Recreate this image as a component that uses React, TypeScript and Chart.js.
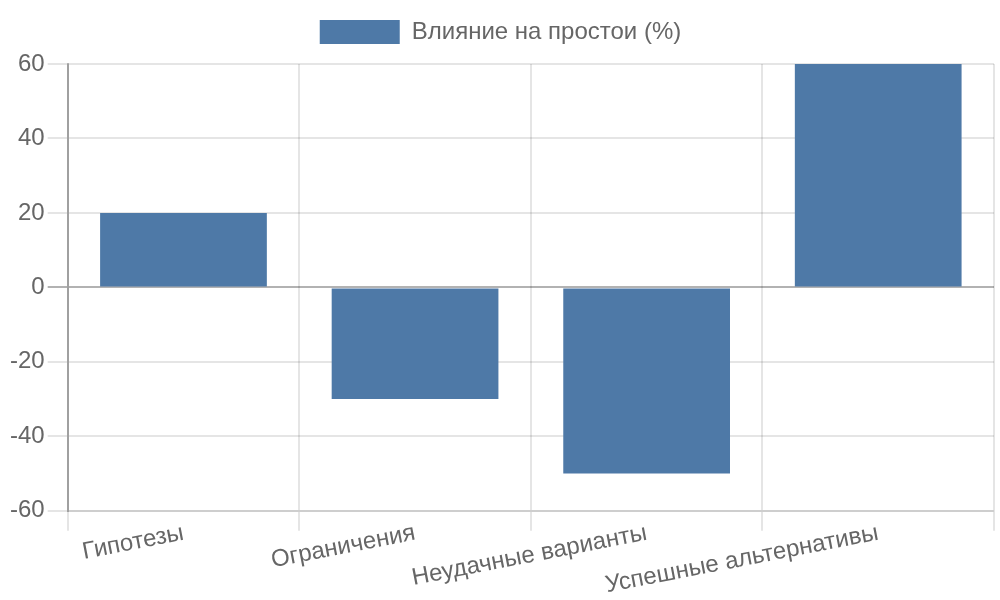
import React, { useEffect, useRef } from "react";
import { Chart, registerables } from "chart.js";

Chart.register(...registerables);

const categories = ["Гипотезы", "Ограничения", "Неудачные варианты", "Успешные альтернативы"];
const impactValues = [20, -30, -50, 60];
const seriesLabel = "Влияние на простои (%)";
const yMin = -60;
const yMax = 60;
const yStep = 20;

const legendSpacer = {
  id: "legendSpacer",
  afterInit(chart: any) {
    const lg = chart.legend;
    if (!lg) return;
    const orig = lg.fit.bind(lg);
    lg.fit = function () {
      orig();
      this.height += 10;
    };
  },
};

export default function App() {
  const ref = useRef<HTMLCanvasElement | null>(null);
  useEffect(() => {
    document.body.style.margin = "0";
    const ctx = ref.current!;
    const font = { family: "'Liberation Sans', Arial, sans-serif", size: 24 };
    const chart = new Chart(ctx, {
      type: "bar",
      data: {
        labels: categories,
        datasets: [
          {
            label: seriesLabel,
            data: impactValues,
            backgroundColor: "#4e79a7",
            borderWidth: 0,
          },
        ],
      },
      plugins: [legendSpacer],
      options: {
        animation: false,
        responsive: true,
        maintainAspectRatio: false,
        devicePixelRatio: 1,
        layout: { padding: { left: 7, right: 6, top: 0, bottom: 0 } },
        plugins: {
          legend: {
            display: true,
            position: "top",
            labels: {
              font,
              color: "#666",
              boxWidth: 80,
              boxHeight: 24,
              padding: 20,
            },
          },
          tooltip: { enabled: false },
        },
        scales: {
          x: {
            grid: {
              color: "rgba(0,0,0,0.1)",
              lineWidth: 2,
              tickLength: 20,
            },
            border: { color: "rgba(0,0,0,0.1)", width: 2 },
            ticks: { font, color: "#666", padding: -12, minRotation: 11, maxRotation: 11 },
            afterFit: (scale: any) => {
              scale.height += 12;
            },
          },
          y: {
            min: yMin,
            max: yMax,
            grid: {
              color: (c: any) => (c.tick && c.tick.value === 0 ? "rgba(0,0,0,0.3)" : "rgba(0,0,0,0.1)"),
              lineWidth: 2,
              tickLength: 20,
            },
            border: { color: "rgba(0,0,0,0.3)", width: 2 },
            ticks: { font, color: "#666", stepSize: yStep, padding: 3 },
          },
        },
      },
    });
    return () => chart.destroy();
  }, []);
  return (
    <div style={{ position: "absolute", left: 0, top: 0, width: 1000, height: 600 }}>
      <canvas ref={ref} />
    </div>
  );
}
